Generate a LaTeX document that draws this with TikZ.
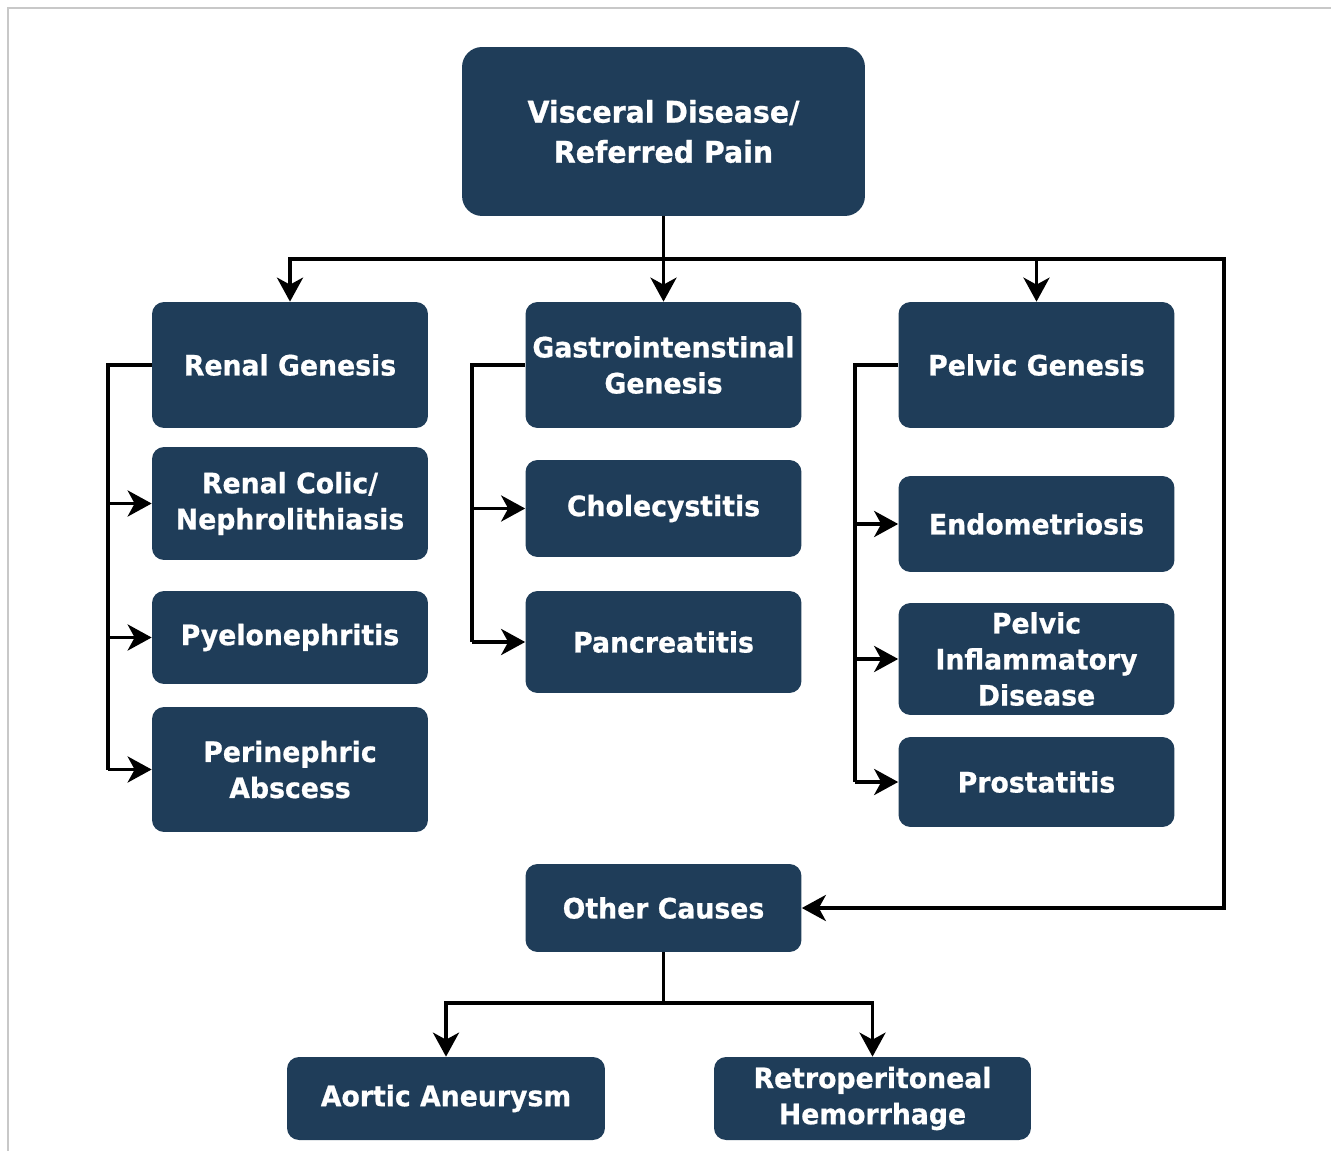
\documentclass[tikz,border=0pt]{standalone}
\usepackage{fontspec}
\setmainfont{DejaVu Sans}[FakeStretch=0.95,BoldFeatures={FakeBold=0.7}]
\usepackage{tikz}
\usetikzlibrary{arrows.meta,calc,positioning}
\definecolor{BoxNavy}{RGB}{31,61,89}
\definecolor{FrameGrey}{RGB}{200,200,200}
\tikzset{
  causebox/.style={rectangle,rounded corners=0.24cm,fill=BoxNavy,text=white,
    align=center,inner sep=0pt,minimum width=5.52cm,
    font=\fontsize{16}{20.5}\selectfont\bfseries},
  link/.style={line width=2.2pt,black},
}
\begin{document}
\begin{tikzpicture}[x=0.02cm,y=-0.02cm,>={Stealth[length=0.48cm,width=0.52cm,inset=0.14cm]}]
      \useasboundingbox (0,0) rectangle (1331,1151);
      \draw[FrameGrey,line width=1.2pt] (8,1151)--(8,8)--(1331,8);
      % top
      \node[causebox,minimum width=8.06cm,minimum height=3.38cm,rounded corners=0.4cm,
        font=\fontsize{17}{22.8}\selectfont\bfseries] (visceral) at (663.5,131.5)
        {Visceral Disease/\\Referred Pain};
      % renal column
      \node[causebox,minimum height=2.52cm] (renal) at (290,365) {Renal Genesis};
      \node[causebox,minimum height=2.26cm] (colic) at (290,503.5) {Renal Colic/\\Nephrolithiasis};
      \node[causebox,minimum height=1.86cm] (pyelo) at (290,637.5) {Pyelonephritis};
      \node[causebox,minimum height=2.5cm] (peri) at (290,769.5) {Perinephric\\Abscess};
      % gastro column
      \node[causebox,minimum height=2.52cm] (gastro) at (663.5,365) {Gastrointenstinal\\Genesis};
      \node[causebox,minimum height=1.94cm] (chole) at (663.5,508.5) {Cholecystitis};
      \node[causebox,minimum height=2.04cm] (pancr) at (663.5,642) {Pancreatitis};
      % pelvic column
      \node[causebox,minimum height=2.52cm] (pelvic) at (1036.5,365) {Pelvic Genesis};
      \node[causebox,minimum height=1.92cm] (endo) at (1036.5,524) {Endometriosis};
      \node[causebox,minimum height=2.24cm] (pid) at (1036.5,659) {Pelvic\\Inflammatory\\Disease};
      \node[causebox,minimum height=1.8cm] (prost) at (1036.5,782) {Prostatitis};
      % other
      \node[causebox,minimum height=1.76cm] (other) at (663.5,908) {Other Causes};
      \node[causebox,minimum width=6.36cm,minimum height=1.66cm] (aortic) at (446,1098.5) {Aortic Aneurysm};
      \node[causebox,minimum width=6.34cm,minimum height=1.66cm] (retro) at (872.5,1098.5) {Retroperitoneal\\Hemorrhage};

      \coordinate (bus) at (663.5,259);
      \coordinate (rbend) at (1224,259);
      \coordinate (obus) at (663.5,1003);
      \coordinate (rtrunk) at (108,365);
      \coordinate (gtrunk) at (472,365);
      \coordinate (ptrunk) at (855,365);

      \draw[link,->] (visceral.south) -- (gastro.north);
      \draw[link,->] (bus) -| (renal.north);
      \draw[link,->] (bus) -| (pelvic.north);
      \draw[link,->] (bus) -- (rbend) |- (other.east);

      \draw[link] (renal.west) -- (rtrunk) -- (rtrunk |- peri.west);
      \foreach \kid in {colic,pyelo,peri}
        \draw[link,->] (rtrunk |- \kid.west) -- (\kid.west);
      \draw[link] (gastro.west) -- (gtrunk) -- (gtrunk |- pancr.west);
      \foreach \kid in {chole,pancr}
        \draw[link,->] (gtrunk |- \kid.west) -- (\kid.west);
      \draw[link] (pelvic.west) -- (ptrunk) -- (ptrunk |- prost.west);
      \foreach \kid in {endo,pid,prost}
        \draw[link,->] (ptrunk |- \kid.west) -- (\kid.west);

      \draw[link] (other.south) -- (obus);
      \draw[link,->] (obus) -| (aortic.north);
      \draw[link,->] (obus) -| (retro.north);
    \end{tikzpicture}
\end{document}
